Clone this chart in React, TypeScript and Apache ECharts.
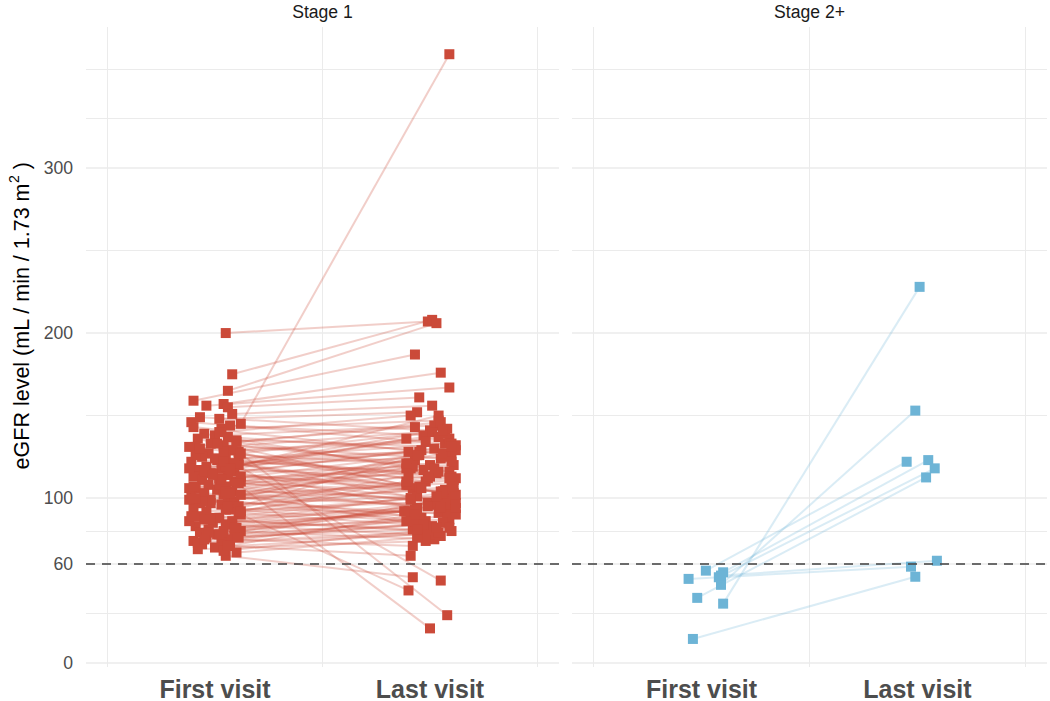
import React, { useEffect, useRef } from 'react';
import * as echarts from 'echarts';

// ---- data ----
const visitLabels = ['First visit', 'Last visit'];
const panelTitles = ['Stage 1', 'Stage 2+'];
const yTicks = [0, 60, 100, 200, 300];
const yMinorLines = [30, 80, 150, 250, 330, 360];
const xGridLines = [0.5, 1.5, 2.5];
const threshold = 60;

const stage1First = [
  200, 145, 175, 165, 159, 157, 156, 155, 151, 120, 128, 110, 65, 90,
  149, 148, 146, 144, 143, 142, 139, 138, 137, 136, 135, 133, 132, 131,
  129, 127, 126, 125, 124, 123, 122, 121, 119, 118, 117, 116, 115, 114, 113, 112, 111,
  109, 108, 107, 106, 105, 104, 103, 102, 101, 100, 99, 98, 97, 96, 94, 93, 92, 91,
  89, 88, 87, 86, 85, 84, 83, 82, 81, 80, 79, 78, 77, 76, 75, 74, 73, 72, 71, 70, 69, 68, 67,
  134, 128, 120, 110, 95,
  131, 127, 118, 113, 106, 102, 99, 92, 86, 80, 124, 115, 108, 97, 88, 78, 140, 119, 104,
  126, 121, 116, 111, 107, 103, 98, 93, 89, 84, 79, 76, 73, 71,
  133, 130, 122, 114, 109, 100, 95, 87, 82, 75, 118,
];
const stage1Last = [
  207, 369, 208, 206, 187, 176, 167, 161, 156, 50, 29, 21, 52, 44,
  141, 152, 133, 138, 126, 147, 118, 144, 129, 102, 131, 143, 124, 110,
  136, 121, 140, 97, 128, 115, 133, 106, 125, 112, 137, 94, 120, 108, 130, 99, 117,
  104, 123, 92, 113, 100, 127, 88, 109, 96, 119, 105, 86, 111, 101, 91, 114, 98, 83,
  107, 95, 80, 103, 90, 77, 97, 87, 93, 75, 89, 84, 100, 81, 71, 85, 78, 88, 65, 79, 74, 82, 76,
  116, 134, 139, 122, 126,
  146, 108, 129, 103, 118, 132, 90, 110, 94, 99, 112, 136, 97, 121, 102, 92, 150, 142, 82,
  113, 128, 104, 126, 116, 95, 112, 86, 101, 92, 96, 84, 80, 90,
  120, 141, 106, 131, 99, 118, 107, 81, 94, 86, 150,
];
const stage1JitterFirst = [
  0.05, 0.12, 0.08, 0.06, -0.10, 0.04, -0.04, 0.06, 0.08, 0.10, 0.11, 0.09, 0.05, 0.12,
  -0.07, 0.02, -0.11, 0.07, -0.10, 0.03, -0.05, 0.00, 0.06, -0.08,
  0.10, -0.02, 0.04, -0.09, 0.08, -0.03, 0.05, -0.06, 0.11, 0.01,
  -0.11, 0.07, -0.04, 0.03, -0.08, 0.09, -0.01, 0.06, -0.10, 0.02,
  -0.06, 0.10, -0.03, 0.05, -0.09, 0.01, 0.08, -0.05, 0.04, -0.11,
  0.06, -0.02, 0.09, -0.07, 0.03, -0.10, 0.07, -0.04, 0.11, -0.08,
  0.02, -0.05, 0.08, -0.01, 0.05, -0.09, 0.10, -0.03, 0.04, -0.07,
  0.01, 0.09, -0.04, 0.06, -0.10, 0.03, -0.06, 0.07, 0.00, -0.08,
  0.04, 0.10,
  0.10, 0.04, 0.11, 0.12, 0.11,
  -0.12, 0.12, -0.12, 0.12, -0.12, 0.12, -0.12, 0.12, -0.12, 0.12, 0.00, -0.02, 0.02, -0.02, 0.00, 0.02, 0.02, 0.05, 0.05,
  -0.09, 0.09, -0.05, 0.03, -0.10, 0.07, -0.06, 0.05, -0.11, 0.08, -0.03, 0.11, -0.08, 0.06,
  0.01, -0.07, 0.04, -0.01, 0.11, -0.09, 0.06, -0.02, 0.09, -0.05, 0.07,
];
const stage1JitterLast = [
  -0.01, 0.09, 0.01, 0.03, -0.07, 0.05, 0.09, -0.05, 0.01, 0.05, 0.08, 0.00, -0.08, -0.10,
  0.00, -0.06, 0.07, -0.03, 0.10, 0.04, -0.09, 0.02, -0.04, 0.08,
  0.11, -0.07, 0.05, -0.02, 0.09, -0.10, 0.01, 0.06, -0.05, 0.03,
  0.10, -0.08, 0.07, -0.01, 0.04, -0.06, 0.11, -0.10, 0.02, 0.08,
  -0.03, 0.05, -0.07, 0.09, 0.00, -0.09, 0.06, -0.04, 0.10, 0.03,
  -0.08, 0.07, -0.02, 0.11, -0.06, 0.04, -0.10, 0.08, 0.01, -0.05,
  0.10, -0.03, 0.06, -0.09, 0.05, -0.01, 0.09, -0.07, 0.02, 0.08,
  -0.04, 0.11, -0.08, -0.08, 0.06, 0.00, -0.05, -0.09, 0.04, -0.02,
  0.09, -0.06,
  0.09, -0.02, 0.07, 0.10, -0.05,
  0.05, -0.11, 0.12, 0.11, -0.11, 0.12, 0.12, -0.11, 0.12, 0.11, 0.12, -0.11, 0.12, -0.11, 0.12, -0.12, -0.09, 0.08, 0.03,
  0.10, -0.10, 0.06, -0.06, 0.04, -0.01, 0.09, -0.07, 0.03, -0.10, 0.07, -0.03, 0.10, -0.07,
  0.00, 0.06, -0.04, 0.10, -0.09, 0.02, 0.11, -0.06, 0.05, -0.11, 0.04,
];

const stage2First = [14.6, 36, 47.4, 56, 55, 52, 39.5, 51, 53];
const stage2Last = [52.3, 228, 153, 122, 123, 118, 112.5, 58.4, 62];
const stage2JitterFirst = [-0.04, 0.10, 0.09, 0.02, 0.10, 0.08, -0.02, -0.06, 0.09];
const stage2JitterLast = [-0.01, 0.01, -0.01, -0.05, 0.05, 0.08, 0.04, -0.03, 0.09];

const FONT = "'Liberation Sans', Arial, Helvetica, sans-serif";
const X_MIN = 0.4;
const X_MAX = 2.6;
const Y_MIN = -2.4;
const Y_MAX = 385.5;

export default function App() {
  const ref = useRef<HTMLDivElement>(null);

  useEffect(() => {
    if (!ref.current) return;
    const chart = echarts.init(ref.current, null, { renderer: 'svg' });

    const panels = [
      { first: stage1First, last: stage1Last, jf: stage1JitterFirst, jl: stage1JitterLast, color: '#CB4A39', line: 'rgba(203,74,57,0.27)' },
      { first: stage2First, last: stage2Last, jf: stage2JitterFirst, jl: stage2JitterLast, color: '#6DB4D6', line: 'rgba(109,180,214,0.25)' },
    ];
    const gridBoxes = [
      { left: 86, top: 27, width: 473, height: 640 },
      { left: 572, top: 27, width: 475, height: 640 },
    ];

    const series: any[] = [];
    panels.forEach((p, pi) => {
      const gridData: any[] = [];
      yTicks.forEach((v) => gridData.push({ coords: [[X_MIN, v], [X_MAX, v]], lineStyle: { width: 1.6 } }));
      yMinorLines.forEach((v) => gridData.push({ coords: [[X_MIN, v], [X_MAX, v]], lineStyle: { width: 1 } }));
      xGridLines.forEach((x) => gridData.push({ coords: [[x, Y_MIN], [x, Y_MAX]], lineStyle: { width: 1 } }));
      series.push({
        type: 'lines', coordinateSystem: 'cartesian2d', xAxisIndex: pi, yAxisIndex: pi,
        silent: true, z: 0, data: gridData,
        lineStyle: { color: '#EBEBEB', width: 1, opacity: 1 },
      });
      series.push({
        type: 'lines', coordinateSystem: 'cartesian2d', xAxisIndex: pi, yAxisIndex: pi,
        silent: true, z: 1,
        data: p.first.map((v, i) => ({ coords: [[1 + p.jf[i], v], [2 + p.jl[i], p.last[i]]] })),
        lineStyle: { color: p.line, width: 2, opacity: 1 },
      });
      const pts: number[][] = [];
      p.first.forEach((v, i) => pts.push([1 + p.jf[i], v]));
      p.last.forEach((v, i) => pts.push([2 + p.jl[i], v]));
      series.push({
        type: 'scatter', xAxisIndex: pi, yAxisIndex: pi, z: 2,
        symbol: 'rect', symbolSize: 10, data: pts,
        itemStyle: { color: p.color, opacity: 1 },
      });
      series.push({
        type: 'lines', coordinateSystem: 'cartesian2d', xAxisIndex: pi, yAxisIndex: pi,
        silent: true, z: 3,
        data: [{ coords: [[X_MIN, threshold], [X_MAX, threshold]] }],
        lineStyle: { color: '#4a4a4a', width: 2, type: [9, 7], opacity: 0.8 },
      });
    });

    const option: any = {
      animation: false,
      backgroundColor: '#ffffff',
      textStyle: { fontFamily: FONT },
      grid: gridBoxes.map((g) => ({ ...g, containLabel: false })),
      xAxis: [0, 1].map((i) => ({
        type: 'value', gridIndex: i, min: X_MIN, max: X_MAX,
        axisLine: { show: false }, axisTick: { show: false }, splitLine: { show: false },
        axisLabel: {
          customValues: [1, 2],
          formatter: (v: number) => visitLabels[Math.round(v) - 1] || '',
          fontSize: 25, fontWeight: 'bold', color: '#4D4D4D', fontFamily: FONT, margin: 9,
        },
      })),
      yAxis: [0, 1].map((i) => ({
        type: 'value', gridIndex: i, min: Y_MIN, max: Y_MAX,
        axisLine: { show: false }, axisTick: { show: false }, splitLine: { show: false },
        axisLabel: i === 0
          ? { customValues: yTicks, fontSize: 17.6, color: '#4D4D4D', fontFamily: FONT, margin: 13 }
          : { show: false },
      })),
      graphic: [
        ...panelTitles.map((t, i) => ({
          type: 'text', x: gridBoxes[i].left + gridBoxes[i].width / 2, y: 12,
          style: { text: t, fontSize: 17.6, fill: '#1A1A1A', fontFamily: FONT, align: 'center', verticalAlign: 'middle' },
        })),
        {
          type: 'text', x: 20, y: 316, rotation: Math.PI / 2,
          style: {
            text: '{n|eGFR level (mL / min / 1.73 m}{s|2}{n| )}',
            align: 'center', verticalAlign: 'middle', fill: '#000',
            rich: {
              n: { fontSize: 21.5, fontFamily: FONT, fill: '#000', lineHeight: 26, verticalAlign: 'bottom' },
              s: { fontSize: 14, fontFamily: FONT, fill: '#000', lineHeight: 26, verticalAlign: 'top', padding: [0, 0, 10, 0] },
            },
          },
        },
      ],
      series,
    };

    chart.setOption(option);
    return () => chart.dispose();
  }, []);

  return <div ref={ref} style={{ position: 'absolute', left: 0, top: 0, width: 1050, height: 701 }} />;
}
